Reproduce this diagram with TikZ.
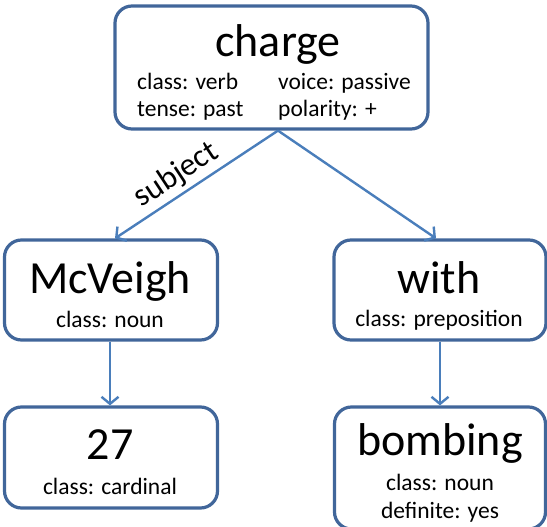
\documentclass[tikz,border=0pt]{standalone}
\usepackage{fontspec}
\setmainfont{Carlito}
\usetikzlibrary{arrows.meta}

\definecolor{boxline}{RGB}{65,102,154}
\definecolor{linkline}{RGB}{74,126,187}

\tikzset{
  box/.style={draw=boxline, line width=3.2pt, rounded corners=17pt, fill=white},
  word/.style={anchor=base, inner sep=0pt, font=\fontsize{46}{55}\selectfont},
  feat/.style={anchor=base, inner sep=0pt, font=\fontsize{23.5}{28}\selectfont},
  link/.style={draw=linkline, line width=2.4pt, -{Straight Barb[length=7pt,width=17pt]}},
}

\begin{document}
\begin{tikzpicture}[x=1pt,y=-1pt]
\useasboundingbox (0,0) rectangle (547,527);

% boxes
\node[box, minimum width=313pt, minimum height=123pt] (charge) at (271.5,67.5) {};
\node[box, minimum width=213pt, minimum height=100pt] (mcveigh) at (111,290) {};
\node[box, minimum width=212pt, minimum height=100pt] (with) at (440,290) {};
\node[box, minimum width=213pt, minimum height=101pt] (card) at (111,457.5) {};
\node[box, minimum width=211pt, minimum height=122pt] (bombing) at (440,468) {};

% words and features
\node[word] (charge-w) at (278,57) {charge};
\node[feat, anchor=base west] (charge-cl) at (137,90) {class: verb};
\node[feat, anchor=base west] (charge-vo) at (278,90) {voice: passive};
\node[feat, anchor=base west] (charge-te) at (137,117) {tense: past};
\node[feat, anchor=base west] (charge-po) at (278,117) {polarity: +};

\node[word] (mcveigh-w) at (110,293) {McVeigh};
\node[feat] (mcveigh-cl) at (110,327) {class: noun};

\node[word] (with-w) at (439,293) {with};
\node[feat] (with-cl) at (439,326) {class: preposition};

\node[word] (card-w) at (110,459) {27};
\node[feat] (card-cl) at (110,494) {class: cardinal};

\node[word] (bombing-w) at (440,455) {bombing};
\node[feat] (bombing-cl) at (440,490) {class: noun};
\node[feat] (bombing-de) at (440,518) {definite: yes};

% links
\draw[link] ([xshift=6.5pt]charge.south) -- ([xshift=4pt]mcveigh.north)
  node[pos=0.56, sloped, above, inner sep=4pt, font=\fontsize{32}{38}\selectfont] (subj) {subject};
\draw[link] ([xshift=6.5pt]charge.south) -- ([xshift=-4pt]with.north);
\draw[link] ([xshift=-1pt]mcveigh.south) -- ([xshift=-1pt]card.north);
\draw[link] (with.south) -- (bombing.north);
\end{tikzpicture}
\end{document}
